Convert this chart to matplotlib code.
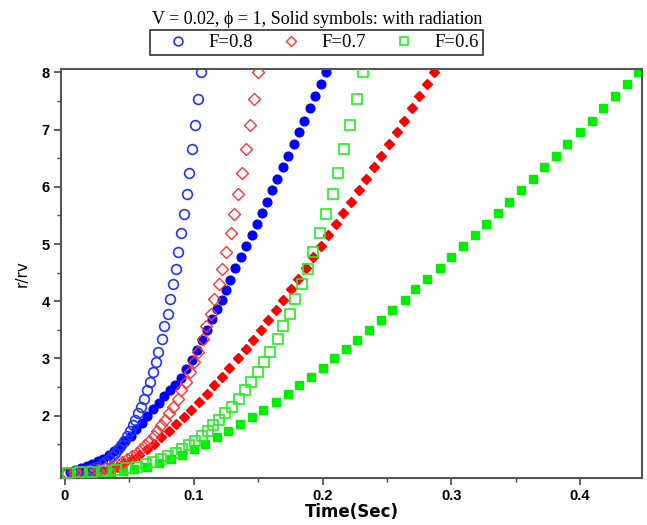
# -*- coding: utf-8 -*-
import numpy as np
import matplotlib
matplotlib.use('Agg')
import matplotlib.pyplot as plt
from matplotlib.ticker import MultipleLocator, FixedLocator

# r/rv sampling of the open symbols (without radiation), shared by the three F values
r_open = [1.00, 1.01, 1.02, 1.03, 1.05, 1.08, 1.11, 1.15, 1.19, 1.24,
          1.29, 1.35, 1.41, 1.48, 1.56, 1.64, 1.73, 1.83, 1.93, 2.04,
          2.16, 2.30, 2.45, 2.59, 2.77, 2.94, 3.12, 3.34, 3.56, 3.78,
          4.04, 4.30, 4.56, 4.86, 5.19, 5.52, 5.88, 6.25, 6.66, 7.08,
          7.53, 8.00]

t_open_08 = [0.0010, 0.0053, 0.0095, 0.0137, 0.0180, 0.0216, 0.0253, 0.0285, 0.0313, 0.0340,
             0.0366, 0.0392, 0.0415, 0.0439, 0.0461, 0.0484, 0.0505, 0.0525, 0.0545, 0.0567,
             0.0591, 0.0616, 0.0636, 0.0659, 0.0684, 0.0704, 0.0725, 0.0755, 0.0772, 0.0797,
             0.0814, 0.0838, 0.0859, 0.0879, 0.0904, 0.0924, 0.0947, 0.0967, 0.0988, 0.1011,
             0.1032, 0.1056]
t_open_07 = [0.0015, 0.0075, 0.0135, 0.0195, 0.0255, 0.0308, 0.0360, 0.0406, 0.0445, 0.0484,
             0.0521, 0.0557, 0.0590, 0.0625, 0.0656, 0.0688, 0.0718, 0.0747, 0.0775, 0.0807,
             0.0841, 0.0876, 0.0904, 0.0937, 0.0973, 0.1002, 0.1032, 0.1074, 0.1098, 0.1134,
             0.1158, 0.1193, 0.1221, 0.1250, 0.1286, 0.1314, 0.1347, 0.1376, 0.1406, 0.1437,
             0.1467, 0.1502]
t_open_06 = [0.0023, 0.0116, 0.0209, 0.0301, 0.0394, 0.0475, 0.0556, 0.0626, 0.0686, 0.0746,
             0.0804, 0.0860, 0.0911, 0.0964, 0.1013, 0.1061, 0.1108, 0.1152, 0.1196, 0.1244,
             0.1298, 0.1351, 0.1395, 0.1446, 0.1501, 0.1545, 0.1592, 0.1657, 0.1694, 0.1749,
             0.1786, 0.1840, 0.1884, 0.1928, 0.1983, 0.2027, 0.2078, 0.2122, 0.2169, 0.2217,
             0.2264, 0.2317]

# solid symbols (with radiation)
t_rad_08 = [0.0039, 0.0082, 0.0125, 0.0168, 0.0211, 0.0254, 0.0297, 0.0340, 0.0383, 0.0426,
            0.0469, 0.0512, 0.0555, 0.0598, 0.0641, 0.0684, 0.0727, 0.0770, 0.0813, 0.0856,
            0.0899, 0.0940, 0.0984, 0.1023, 0.1061, 0.1100, 0.1139, 0.1183, 0.1220, 0.1250,
            0.1285, 0.1320, 0.1365, 0.1406, 0.1450, 0.1489, 0.1528, 0.1572, 0.1610, 0.1649,
            0.1696, 0.1735, 0.1779, 0.1817, 0.1859, 0.1903, 0.1942, 0.1986, 0.2027]
r_rad_08 = [1.02, 1.05, 1.08, 1.12, 1.16, 1.20, 1.25, 1.31, 1.38, 1.46,
            1.55, 1.65, 1.76, 1.88, 2.00, 2.12, 2.23, 2.34, 2.44, 2.54,
            2.65, 2.81, 2.97, 3.15, 3.32, 3.50, 3.69, 3.86, 4.03, 4.20,
            4.38, 4.58, 4.77, 4.96, 5.16, 5.35, 5.54, 5.74, 5.95, 6.14,
            6.34, 6.54, 6.75, 6.96, 7.16, 7.38, 7.58, 7.80, 8.00]

r_rad = [1.00, 1.00, 1.01, 1.02, 1.04, 1.07, 1.11, 1.17, 1.24, 1.32,
         1.41, 1.51, 1.62, 1.74, 1.85, 1.97, 2.10, 2.24, 2.38, 2.53,
         2.68, 2.84, 3.00, 3.16, 3.33, 3.50, 3.68, 3.85, 4.03, 4.21,
         4.39, 4.58, 4.77, 4.96, 5.15, 5.35, 5.54, 5.74, 5.94, 6.14,
         6.34, 6.54, 6.75, 6.96, 7.16, 7.38, 7.58, 7.80, 8.00]
t_rad_07 = [0.0054, 0.0112, 0.0170, 0.0228, 0.0286, 0.0344, 0.0402, 0.0460, 0.0518, 0.0576,
            0.0634, 0.0692, 0.0750, 0.0808, 0.0866, 0.0924, 0.0982, 0.1040, 0.1101, 0.1157,
            0.1217, 0.1276, 0.1341, 0.1406, 0.1463, 0.1520, 0.1580, 0.1639, 0.1696, 0.1755,
            0.1812, 0.1872, 0.1929, 0.1986, 0.2045, 0.2105, 0.2162, 0.2219, 0.2281, 0.2338,
            0.2398, 0.2454, 0.2517, 0.2576, 0.2633, 0.2693, 0.2752, 0.2809, 0.2866]
t_rad_06 = [0.009, 0.018, 0.027, 0.036, 0.045, 0.054, 0.064, 0.073, 0.082, 0.091,
            0.100, 0.109, 0.118, 0.127, 0.136, 0.145, 0.154, 0.164, 0.173, 0.182,
            0.191, 0.200, 0.209, 0.218, 0.227, 0.236, 0.245, 0.254, 0.264, 0.272,
            0.281, 0.291, 0.300, 0.309, 0.318, 0.327, 0.336, 0.345, 0.354, 0.363,
            0.372, 0.381, 0.390, 0.400, 0.409, 0.418, 0.427, 0.436, 0.445]

labels = ['F=0.8', 'F=0.7', 'F=0.6']
x_ticks = [0, 0.1, 0.2, 0.3, 0.4]
x_ticklabels = ['0', '0.1', '0.2', '0.3', '0.4']
y_ticks = [2, 3, 4, 5, 6, 7, 8]

blue = '#0000ff'
red = '#ff0000'
green = '#00ee00'

fig = plt.figure(figsize=(6.47, 5.25), dpi=100)
ax = fig.add_axes([0.0943, 0.0895, 0.898, 0.779])

# solid symbols
ax.plot(t_rad_08, r_rad_08, 'o', color=blue, ms=6.3, mec=blue, zorder=2)
ax.plot(t_rad_07, r_rad, 'D', color=red, ms=5.5, mec=red, zorder=2)
ax.plot(t_rad_06, r_rad, 's', color=green, ms=6.3, mec=green, zorder=2)

# open symbols
h1, = ax.plot(t_open_08, r_open, 'o', mfc='none', mec='#2233ff', mew=1.2, ms=7, label=labels[0], zorder=3)
h2, = ax.plot(t_open_07, r_open, 'D', mfc='none', mec='#ff3333', mew=1.0, ms=6, label=labels[1], zorder=3)
h3, = ax.plot(t_open_06, r_open, 's', mfc='none', mec='#22ee22', mew=1.2, ms=7, label=labels[2], zorder=3)

ax.set_xlim(-0.003, 0.448)
ax.set_ylim(0.91, 8.06)
ax.xaxis.set_major_locator(FixedLocator(x_ticks))
ax.set_xticklabels(x_ticklabels)
ax.xaxis.set_minor_locator(MultipleLocator(0.05))
ax.yaxis.set_major_locator(FixedLocator(y_ticks))
ax.yaxis.set_minor_locator(FixedLocator(np.arange(1.5, 8, 1.0)))

for s in ax.spines.values():
    s.set_color('#555555')
    s.set_linewidth(1.5)
ax.tick_params(which='major', direction='out', length=5, width=1.2, color='#444444',
               labelsize=10.5, pad=3)
ax.tick_params(which='minor', direction='out', length=3, width=1.0, color='#444444')
for lab in ax.get_xticklabels() + ax.get_yticklabels():
    lab.set_fontweight('bold')
    lab.set_family('Liberation Sans')

ax.set_xlabel('Time(Sec)', fontsize=12, fontweight='bold', family='DejaVu Sans', labelpad=0)
ax.set_ylabel('r/rv', fontsize=11, family='DejaVu Sans', labelpad=9)

fig.text(0.49, 0.963, u'V = 0.02, \u03d5 = 1, Solid symbols: with radiation',
         ha='center', va='center', fontsize=13, family=['Liberation Serif', 'DejaVu Serif'])

leg = fig.legend(handles=[h1, h2, h3], loc='center', bbox_to_anchor=(0.489, 0.919), ncol=3,
                 frameon=True, fancybox=False, edgecolor='black', handlelength=2.6,
                 columnspacing=0.7, handletextpad=0.35, borderpad=0.2, markerscale=0.9,
                 prop={'family': 'Liberation Serif', 'size': 13.5})
leg.get_frame().set_linewidth(1.2)

plt.savefig('out.png', dpi=100)
